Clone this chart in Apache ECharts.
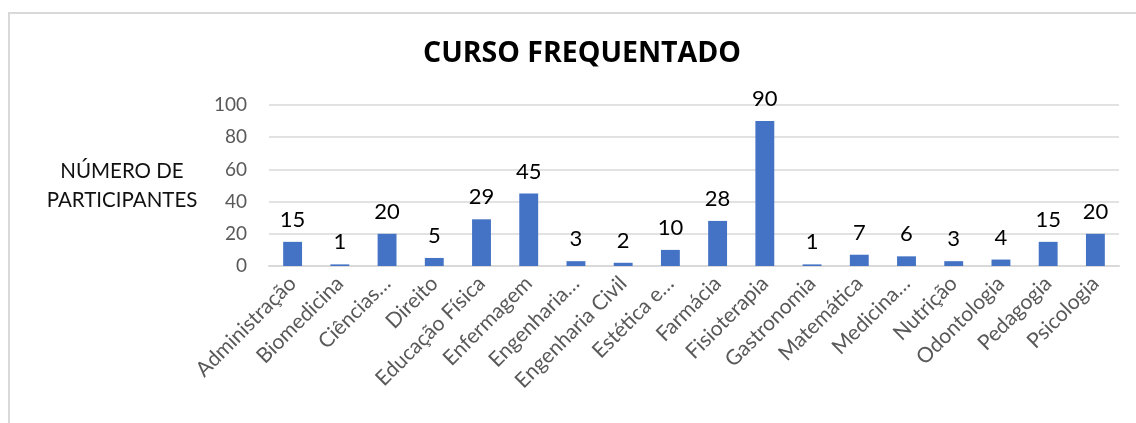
<!DOCTYPE html>
<html>
<head>
<meta charset="utf-8">
<script src="https://cdn.jsdelivr.net/npm/echarts@6/dist/echarts.min.js"></script>
<style>
  html, body { margin: 0; padding: 0; background: #fff; }
  #frame {
    position: absolute; left: 8px; top: 12px; width: 1140px; height: 420px;
    border-left: 2px solid #d9d9d9; border-top: 2px solid #d9d9d9;
  }
  #chart { position: absolute; left: 0; top: 0; width: 1136px; height: 423px; }
</style>
</head>
<body>
<div id="frame"></div>
<div id="chart"></div>
<script>
const categories = [
  'Administração', 'Biomedicina', 'Ciências…', 'Direito', 'Educação Física',
  'Enfermagem', 'Engenharia…', 'Engenharia Civil', 'Estética e…', 'Farmácia',
  'Fisioterapia', 'Gastronomia', 'Matemática', 'Medicina…', 'Nutrição',
  'Odontologia', 'Pedagogia', 'Psicologia'
]
const participants = [15, 1, 20, 5, 29, 45, 3, 2, 10, 28, 90, 1, 7, 6, 3, 4, 15, 20]
const yTicks = [0, 20, 40, 60, 80, 100]

const font = 'Lato, "Open Sans", sans-serif'

const chart = echarts.init(document.getElementById('chart'))

const option = {
  backgroundColor: 'transparent',
  animation: false,
  title: {
    text: 'CURSO FREQUENTADO',
    left: 577,
    textAlign: 'center',
    top: 34,
    textStyle: {
      color: '#000',
      fontSize: 28.5,
      fontWeight: 'bold',
      fontFamily: 'Open Sans, sans-serif'
    }
  },
  grid: {
    left: 269,
    right: 17,
    top: 105,
    bottom: 157
  },
  xAxis: {
    type: 'category',
    data: categories,
    axisLine: { show: true, lineStyle: { color: '#d9d9d9', width: 2 } },
    axisTick: { show: false },
    axisLabel: {
      interval: 0,
      rotate: 45,
      margin: 14,
      color: '#595959',
      fontSize: 21,
      fontFamily: font
    }
  },
  yAxis: {
    type: 'value',
    min: yTicks[0],
    max: yTicks[yTicks.length - 1],
    interval: yTicks[1] - yTicks[0],
    name: 'NÚMERO DE\nPARTICIPANTES',
    nameLocation: 'middle',
    nameRotate: 0,
    nameGap: 147,
    nameTextStyle: {
      color: '#111',
      fontSize: 20.5,
      lineHeight: 29,
      fontFamily: font,
      align: 'center'
    },
    axisLine: { show: false },
    axisTick: { show: false },
    axisLabel: {
      color: '#595959',
      fontSize: 19,
      margin: 22,
      fontFamily: font
    },
    splitLine: { lineStyle: { color: '#d9d9d9', width: 1.5 } }
  },
  series: [
    {
      name: 'Participantes',
      type: 'bar',
      data: participants,
      barWidth: '40%',
      itemStyle: { color: '#4472C4' },
      label: {
        show: true,
        position: 'top',
        distance: 11,
        color: '#000',
        fontSize: 22,
        fontFamily: font
      }
    }
  ]
}

chart.setOption(option)
</script>
</body>
</html>
